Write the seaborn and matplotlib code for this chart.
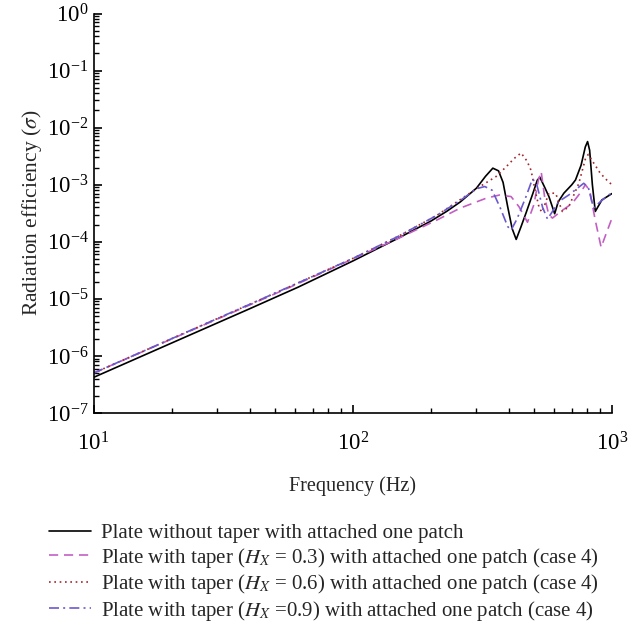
import numpy as np
import pandas as pd
import matplotlib
matplotlib.use("Agg")
import matplotlib.pyplot as plt
import seaborn as sns
from matplotlib.ticker import LogLocator, NullFormatter

# ---- data ----
f_plain = [10, 20, 40, 61.5, 100, 150, 200, 230, 260, 300, 325, 347, 365, 380, 396, 412, 427,
           445, 466, 495, 515, 527, 550, 571, 601, 620, 652, 700, 723, 760, 789, 805, 820, 840,
           862, 914, 1000]
s_plain = [4.2e-7, 1.68e-6, 6.7e-6, 1.6e-5, 4.6e-5, 1.16e-4, 2.3e-4, 3.4e-4, 5.0e-4, 8.7e-4,
           1.4e-3, 1.95e-3, 1.75e-3, 1.1e-3, 4.1e-4, 1.7e-4, 1.1e-4, 1.8e-4, 3.2e-4, 7e-4, 1.2e-3,
           1.35e-3, 9e-4, 6.2e-4, 3.1e-4, 5e-4, 7.1e-4, 1.0e-3, 1.21e-3, 2.2e-3, 4.6e-3, 5.7e-3,
           4e-3, 1e-3, 3.4e-4, 5.4e-4, 7e-4]

f_h03 = [10, 20, 40, 61.5, 100, 150, 211, 260, 327, 368, 408, 438, 472, 500, 520, 533, 550,
         570, 589, 640, 702, 760, 789, 820, 860, 908, 950, 1000]
s_h03 = [5.0e-7, 1.98e-6, 7.8e-6, 1.85e-5, 5.0e-5, 1.15e-4, 2.4e-4, 3.9e-4, 5.8e-4, 6.6e-4,
         6.2e-4, 4.1e-4, 2.2e-4, 4.5e-4, 1.2e-3, 1.7e-3, 6e-4, 3e-4, 2.6e-4, 3.5e-4, 4.7e-4,
         7.5e-4, 1.0e-3, 8e-4, 2.5e-4, 8e-5, 1.4e-4, 2.6e-4]

f_h06 = [10, 20, 40, 61.5, 100, 150, 211, 260, 300, 357, 391, 420, 446, 470, 487, 508, 524,
         537, 571, 606, 643, 681, 745, 789, 810, 850, 900, 968, 1000]
s_h06 = [5.0e-7, 2.0e-6, 8.0e-6, 1.9e-5, 5.1e-5, 1.25e-4, 2.9e-4, 5.5e-4, 8.5e-4, 1.39e-3,
         2.07e-3, 2.9e-3, 3.6e-3, 2.6e-3, 1.8e-3, 7.1e-4, 3.9e-4, 3.3e-4, 7.1e-4, 7.1e-4,
         3.4e-4, 4.1e-4, 1.06e-3, 2.8e-3, 3.4e-3, 2.4e-3, 1.6e-3, 1.13e-3, 1.0e-3]

f_h09 = [10, 20, 40, 61.5, 100, 150, 211, 260, 300, 323, 345, 370, 396, 408, 430, 466, 493,
         510, 540, 564, 624, 681, 778, 810, 849, 900, 968, 1000]
s_h09 = [5.0e-7, 2.0e-6, 8.0e-6, 1.9e-5, 5.1e-5, 1.25e-4, 2.9e-4, 5.3e-4, 8.5e-4, 9.3e-4,
         8e-4, 4e-4, 1.85e-4, 1.6e-4, 2.5e-4, 6.2e-4, 1.25e-3, 1.1e-3, 4e-4, 2.5e-4, 5.1e-4,
         6.6e-4, 1.06e-3, 9e-4, 3.9e-4, 5e-4, 6.6e-4, 7.1e-4]

labels = [
    "Plate without taper with attached one patch",
    "Plate with taper ($H_X$ = 0.3) with attached one patch (case 4)",
    "Plate with taper ($H_X$ = 0.6) with attached one patch (case 4)",
    "Plate with taper ($H_X$ =0.9) with attached one patch (case 4)",
]

# ---- style ----
sns.set_style("ticks")
plt.rcParams["font.family"] = ["Liberation Serif", "DejaVu Serif"]
plt.rcParams["mathtext.fontset"] = "stix"

fig = plt.figure(figsize=(6.29, 6.27), dpi=100)
# axes: x from 93.5 px to 612 px, y from 13.5 px to 413 px
ax = fig.add_axes([93.5 / 629, 1 - 413 / 627, (612 - 93.5) / 629, (413 - 13.5) / 627])

series = [
    (f_plain, s_plain, "#000000", "-"),
    (f_h03, s_h03, "#c35fc3", (0, (5.5, 3.5))),
    (f_h06, s_h06, "#a3262c", (0, (1, 2.2))),
    (f_h09, s_h09, "#6a5acd", (0, (6, 2.5, 1.2, 2.5))),
]
for (fx, sy, col, ls), lab in zip(series, labels):
    df = pd.DataFrame({"f": fx, "s": sy})
    sns.lineplot(data=df, x="f", y="s", ax=ax, color=col, linestyle=ls, linewidth=1.2,
                 label=lab, estimator=None, sort=False)

ax.set_xscale("log")
ax.set_yscale("log")
ax.set_xlim(10, 1000)
ax.set_ylim(1e-7, 1)
ax.yaxis.set_major_locator(LogLocator(base=10, numticks=100))
ax.yaxis.set_minor_locator(LogLocator(base=10, subs=np.arange(2, 10), numticks=100))
ax.yaxis.set_minor_formatter(NullFormatter())
ax.xaxis.set_minor_formatter(NullFormatter())

for s in ["top", "right"]:
    ax.spines[s].set_visible(False)
for s in ["left", "bottom"]:
    ax.spines[s].set_linewidth(1.2)
    ax.spines[s].set_color("black")

ax.tick_params(axis="both", which="major", direction="in", length=6, width=1.2,
               labelsize=16.5, colors="black")
ax.tick_params(axis="both", which="minor", direction="in", length=3.5, width=1.0, colors="black")
ax.tick_params(axis="x", which="major", pad=14)
ax.tick_params(axis="y", which="major", pad=3.5)

ax.set_xlabel("Frequency (Hz)", fontsize=14.5, labelpad=15)
ax.set_ylabel("Radiation efficiency ($\\sigma$)", fontsize=15.5, labelpad=2)

handles, labs = ax.get_legend_handles_labels()
ax.get_legend().remove()
fig.legend(handles, labs, loc="upper left", bbox_to_anchor=(0.078, 0.165), frameon=False,
           fontsize=15, handlelength=2.0, handletextpad=0.5, labelspacing=0.12,
           borderaxespad=0, borderpad=0)

fig.savefig("out.png", dpi=100, facecolor="white")
